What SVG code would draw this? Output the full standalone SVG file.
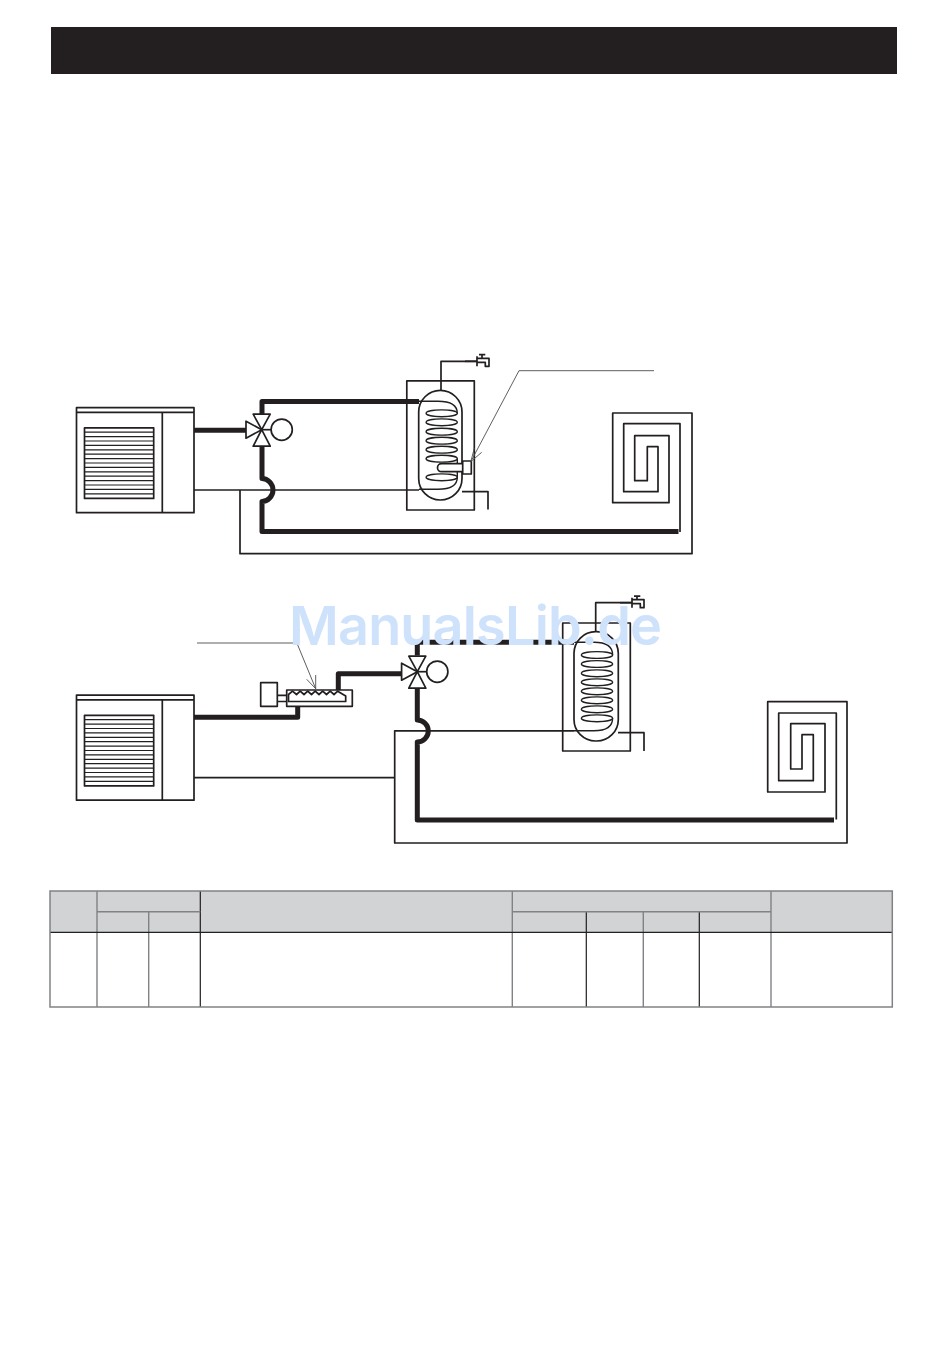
<svg xmlns="http://www.w3.org/2000/svg" width="950" height="1358" viewBox="0 0 950 1358">
<style>
.l{fill:none;stroke:#231f20;stroke-width:1.7;stroke-linejoin:round;stroke-linecap:butt}
.w{fill:#fff;stroke:#231f20;stroke-width:1.7;stroke-linejoin:round}
.t{fill:none;stroke:#231f20;stroke-width:5;stroke-linejoin:round}
.e{fill:none;stroke:#231f20;stroke-width:1.4}
.c{fill:none;stroke:#4d4d4f;stroke-width:.9}
.g{stroke:#808285;stroke-width:1.4;fill:none}
.d{stroke:#231f20;stroke-width:1.2;fill:none}
.wm{font-family:"Inter",sans-serif;font-size:54px;font-weight:600;fill:#cfe2fb}
</style>
<defs>
<g id="unit">
<rect class="l" x="76.5" y="407.7" width="117.5" height="105"/>
<path class="l" d="M76.5 412.3H194M162.3 412.3V512.7"/>
<rect class="l" x="84.5" y="427.8" width="69.2" height="70.6"/>
<path class="l" style="stroke-width:1.2" d="M84.5 432.2H153.7M84.5 436.6H153.7M84.5 441H153.7M84.5 445.4H153.7M84.5 449.8H153.7M84.5 454.2H153.7M84.5 458.6H153.7M84.5 463H153.7M84.5 467.4H153.7M84.5 471.8H153.7M84.5 476.2H153.7M84.5 480.6H153.7M84.5 485H153.7M84.5 489.4H153.7M84.5 493.8H153.7"/>
</g>
<g id="valve">
<path class="w" d="M-15.7 -8.5V8.5L0 0Z"/>
<path class="w" d="M-8.5 -15.5H8.5L0 0Z"/>
<path class="w" d="M-8.5 16.5H8.5L0 0Z"/>
<path class="l" d="M0 0H10"/>
<circle class="w" cx="20" cy="0" r="10.6"/>
</g>
<g id="tap">
<path class="l" d="M-12 0H0"/>
<path class="w" d="M0 -3H12V5H8.3V1H0Z M0 -5V5"/>
<path class="l" d="M2 -6.6H8.3M5 -6.6V-3"/>
</g>
<g id="coil">
<ellipse class="e" cx="0" cy="0" rx="15.6" ry="3.4"/>
</g>
</defs>

<rect id="title-bar" x="51" y="27" width="846" height="47" fill="#231f20"/>

<g id="connectors">
<path class="t" d="M194 430.3H246"/>
<path class="t" d="M262 414V401.4H419"/>
<path class="t" d="M262 446V478.5C268 478.5 273 484 273 490C273 496 268 501.5 262 501.5V531.4H678.5"/>
<path class="l" d="M194 490H419"/>
<path class="l" d="M462 491.7H488V509.5"/>
<path class="l" d="M240 490V553.7H692V413H612.7V502.7H669V435.7H634.7V480.7H647.3V446.7H658V491.7H623.7V423.7H680V532"/>
<path class="l" d="M441 390.5V361.3H477"/>
<path class="t" d="M194 717.3H297.7V706.3"/>
<path class="t" d="M338.3 690V673.8H401.7"/>
<path class="t" d="M417.3 655.5V642.3H574"/>
<path class="t" d="M417.3 688V720C423.3 720 428.3 725 428.3 731C428.3 737 423.3 742 417.3 742V820H834"/>
<path class="l" d="M194 777.7H394.7"/>
<path class="l" d="M574 730.8H394.7V843H847V701.7H767.7V792H825V723.7H790.7V769H802V734.7H813.3V780.7H778.7V713H836.3V819.5"/>
<path class="l" d="M618 732.7H644V751"/>
<path class="l" d="M595.7 632V602.7H632"/>
</g>

<g id="outdoor-unit-1"><use href="#unit"/></g>
<g id="outdoor-unit-2"><use href="#unit" y="287.5"/></g>
<g id="valve-1"><use href="#valve" x="261.7" y="429.7"/></g>
<g id="valve-2"><use href="#valve" x="417.3" y="671.7"/></g>

<g id="tank-1">
<rect class="l" x="406.8" y="380.8" width="67.5" height="129.2"/>
<rect class="l" x="418.7" y="390.4" width="43.3" height="109.6" rx="21.6" ry="21.6"/>
<path class="e" d="M419 401.2H438C451 401.2 457.3 405 457.3 413.3M419 489.3H438C451 489.3 457.3 485.5 457.3 477.3M457.3 458.7V477.3"/>
<use href="#coil" x="441.7" y="413.3"/><use href="#coil" x="441.7" y="422.3"/><use href="#coil" x="441.7" y="431.7"/><use href="#coil" x="441.7" y="440.7"/><use href="#coil" x="441.7" y="449.7"/><use href="#coil" x="441.7" y="458.7"/><use href="#coil" x="441.7" y="477.3"/>
<path class="w" d="M463 463.7H441.5A4 4 0 0 0 441.5 471.7H463Z"/>
<rect class="w" x="462.7" y="461" width="8.6" height="13"/>
<use href="#tap" x="477" y="361.3"/>
</g>

<g id="tank-2">
<rect class="l" x="562.7" y="623" width="67.6" height="128"/>
<rect class="l" x="574" y="631.7" width="44.3" height="109.3" rx="21.6" ry="21.6"/>
<path class="e" d="M574 642.3H594C607 642.3 612.6 647 612.6 655M574 730.8H594C607 730.8 612.6 726 612.6 718.3"/>
<use href="#coil" x="597" y="655"/><use href="#coil" x="597" y="664"/><use href="#coil" x="597" y="673.3"/><use href="#coil" x="597" y="682.3"/><use href="#coil" x="597" y="691.3"/><use href="#coil" x="597" y="700.3"/><use href="#coil" x="597" y="709.3"/><use href="#coil" x="597" y="718.3"/>
<use href="#tap" x="632" y="602.7"/>
</g>

<g id="underfloor-note-1">
<path class="c" d="M654 370.7H519L470.8 461.7M474.3 448.3L470.8 461.7L481.7 452.3"/>
</g>

<g id="heater">
<rect class="w" x="260.7" y="682.7" width="16.6" height="23.6"/>
<path class="l" d="M277.3 695.4H288M277.3 701.5H288"/>
<rect class="w" x="286.7" y="690" width="65.6" height="16.3"/>
<path class="l" d="M288.5 701.5V694.5L292.5 691.2L296.5 694.5L300.2 691.2L304 694.5L307.7 691.2L311.5 694.5L315.2 691.2L319 694.5L322.7 691.2L326.5 694.5L330.2 691.2L334 694.5L337.7 691.2L345.7 696V701.5Z"/>
</g>
<g id="heater-note">
<path class="c" d="M197 643H293.5"/>
<path class="c" d="M297.3 644L315.7 688.7M315.7 675V688.7L306.7 679.3"/>
</g>

<g id="table">
<rect x="50" y="891" width="842.3" height="41.3" fill="#d1d3d4"/>
<path class="g" d="M97 891V1007M148.7 911.7V1007M512.3 891V1007M643.3 911.7V1007M771 891V1007"/>
<path class="d" d="M200.3 891V1007M586.3 911.7V1007M699.3 911.7V1007"/>
<path class="g" d="M97 911.7H200.3M512.3 911.7H771"/>
<path class="d" d="M50 932.3H892.3"/>
<rect x="50" y="891" width="842.3" height="116" fill="none" stroke="#808285" stroke-width="1.5"/>
</g>

<text id="watermark" class="wm" x="289" y="644.5" textLength="373">ManualsLib.de</text>
</svg>
